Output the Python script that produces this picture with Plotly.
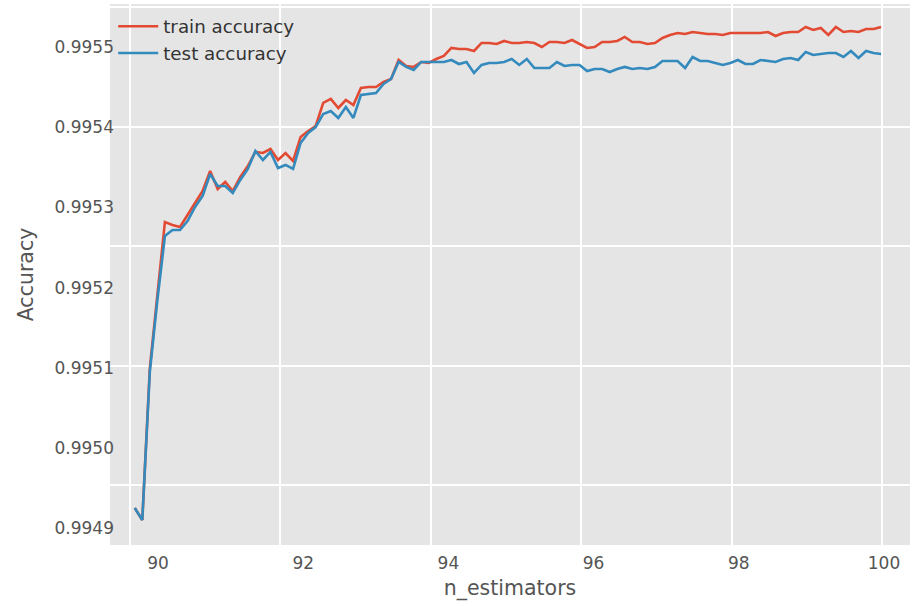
import numpy as np
import plotly.graph_objects as go

# n_estimators positions (evenly spaced samples)
n_estimators = np.linspace(89.68, 99.96, 100)

train_accuracy = [
    0.9949252, 0.9949102, 0.9950997, 0.9951908, 0.9952818, 0.9952781, 0.9952756, 0.9952905, 0.9953055, 0.9953204,
    0.9953454, 0.9953229, 0.9953317, 0.9953204, 0.9953379, 0.9953516, 0.9953691, 0.9953678, 0.9953728, 0.9953591,
    0.9953678, 0.9953579, 0.9953878, 0.9953953, 0.9954015, 0.9954302, 0.9954352, 0.9954239, 0.9954339, 0.9954277,
    0.9954489, 0.9954501, 0.9954501, 0.9954564, 0.9954601, 0.9954838, 0.9954763, 0.9954751, 0.9954813, 0.9954800,
    0.9954850, 0.9954888, 0.9954988, 0.9954975, 0.9954975, 0.9954950, 0.9955050, 0.9955050, 0.9955037, 0.9955075,
    0.9955050, 0.9955050, 0.9955062, 0.9955050, 0.9955000, 0.9955062, 0.9955062, 0.9955050, 0.9955087, 0.9955037,
    0.9954988, 0.9955000, 0.9955062, 0.9955062, 0.9955075, 0.9955125, 0.9955062, 0.9955062, 0.9955037, 0.9955050,
    0.9955112, 0.9955150, 0.9955175, 0.9955162, 0.9955187, 0.9955175, 0.9955162, 0.9955162, 0.9955150, 0.9955175,
    0.9955175, 0.9955175, 0.9955175, 0.9955175, 0.9955187, 0.9955137, 0.9955175, 0.9955187, 0.9955187, 0.9955249,
    0.9955212, 0.9955237, 0.9955150, 0.9955249, 0.9955187, 0.9955200, 0.9955187, 0.9955224, 0.9955224, 0.9955249,
]

test_accuracy = [
    0.9949252, 0.9949102, 0.9950948, 0.9951845, 0.9952643, 0.9952718, 0.9952718, 0.9952830, 0.9953005, 0.9953142,
    0.9953416, 0.9953267, 0.9953267, 0.9953180, 0.9953342, 0.9953479, 0.9953703, 0.9953591, 0.9953691, 0.9953491,
    0.9953529, 0.9953479, 0.9953803, 0.9953928, 0.9954002, 0.9954165, 0.9954202, 0.9954115, 0.9954252, 0.9954115,
    0.9954401, 0.9954414, 0.9954426, 0.9954539, 0.9954601, 0.9954813, 0.9954751, 0.9954713, 0.9954813, 0.9954813,
    0.9954813, 0.9954813, 0.9954838, 0.9954788, 0.9954813, 0.9954676, 0.9954776, 0.9954800, 0.9954800, 0.9954813,
    0.9954850, 0.9954776, 0.9954850, 0.9954738, 0.9954738, 0.9954738, 0.9954813, 0.9954763, 0.9954776, 0.9954776,
    0.9954701, 0.9954726, 0.9954726, 0.9954688, 0.9954726, 0.9954751, 0.9954726, 0.9954738, 0.9954726, 0.9954751,
    0.9954825, 0.9954825, 0.9954825, 0.9954738, 0.9954875, 0.9954825, 0.9954825, 0.9954800, 0.9954776, 0.9954800,
    0.9954838, 0.9954788, 0.9954788, 0.9954838, 0.9954825, 0.9954813, 0.9954850, 0.9954863, 0.9954838, 0.9954938,
    0.9954900, 0.9954913, 0.9954925, 0.9954925, 0.9954875, 0.9954950, 0.9954863, 0.9954950, 0.9954925, 0.9954913,
]

x_tick_vals = [90, 92, 94, 96, 98, 100]
y_tick_vals = [0.9949, 0.9950, 0.9951, 0.9952, 0.9953, 0.9954, 0.9955]
grid_x_vals = [0, 1, 2, 3, 4, 5]
grid_y_vals = [0, 1, 2, 3, 4]

FONT = "DejaVu Sans"
TXT = "#555555"

fig = go.Figure()
fig.add_trace(go.Scatter(x=n_estimators, y=train_accuracy, mode="lines", name="train accuracy",
                         line=dict(color="#E24A33", width=2.6), legendgroup="a"))
fig.add_trace(go.Scatter(x=n_estimators, y=test_accuracy, mode="lines", name="test accuracy",
                         line=dict(color="#348ABD", width=2.6), legendgroup="b"))
# empty trace to carry the grid axes
fig.add_trace(go.Scatter(x=[], y=[], xaxis="x2", yaxis="y2", showlegend=False, hoverinfo="skip"))

fig.update_layout(
    width=912, height=606,
    margin=dict(l=110, r=2, t=4, b=61),
    paper_bgcolor="white", plot_bgcolor="#E5E5E5",
    font=dict(family=FONT, color=TXT, size=17),
    showlegend=True,
    legend=dict(x=0.004, y=0.993, xanchor="left", yanchor="top", bgcolor="rgba(0,0,0,0)",
                font=dict(family=FONT, size=18.3, color="#333333"), itemwidth=40,
                tracegroupgap=0),
    xaxis=dict(range=[89.339, 100.358], tickvals=x_tick_vals, ticktext=[str(v) for v in x_tick_vals],
               showgrid=False, zeroline=False, showline=False, automargin=False,
               ticks="outside", ticklen=3, tickcolor="rgba(0,0,0,0)",
               tickfont=dict(family=FONT, size=17, color=TXT),
               title=dict(text="n_estimators", font=dict(family=FONT, size=20.5, color=TXT), standoff=8)),
    yaxis=dict(range=[0.994879, 0.9955536], tickvals=y_tick_vals, tickformat=".4f",
               showgrid=False, zeroline=False, showline=False, ticks="", automargin=False,
               ticklabelstandoff=-5,
               tickfont=dict(family=FONT, size=17, color=TXT),
               title=dict(text="Accuracy", font=dict(family=FONT, size=20.5, color=TXT), standoff=15)),
    xaxis2=dict(overlaying="x", anchor="y2", range=[-0.133, 5.186], tickvals=grid_x_vals,
                showticklabels=False, showgrid=True, gridcolor="white", gridwidth=1.8,
                zeroline=False, showline=False, ticks="", automargin=False),
    yaxis2=dict(overlaying="y", anchor="x2", range=[-0.498, 4.029], tickvals=grid_y_vals,
                showticklabels=False, showgrid=True, gridcolor="white", gridwidth=1.8,
                zeroline=False, showline=False, ticks="", automargin=False),
)

fig.write_html("out.html", config={"displayModeBar": False},
               post_script="document.body.style.margin='0';document.body.style.overflow='hidden';")
